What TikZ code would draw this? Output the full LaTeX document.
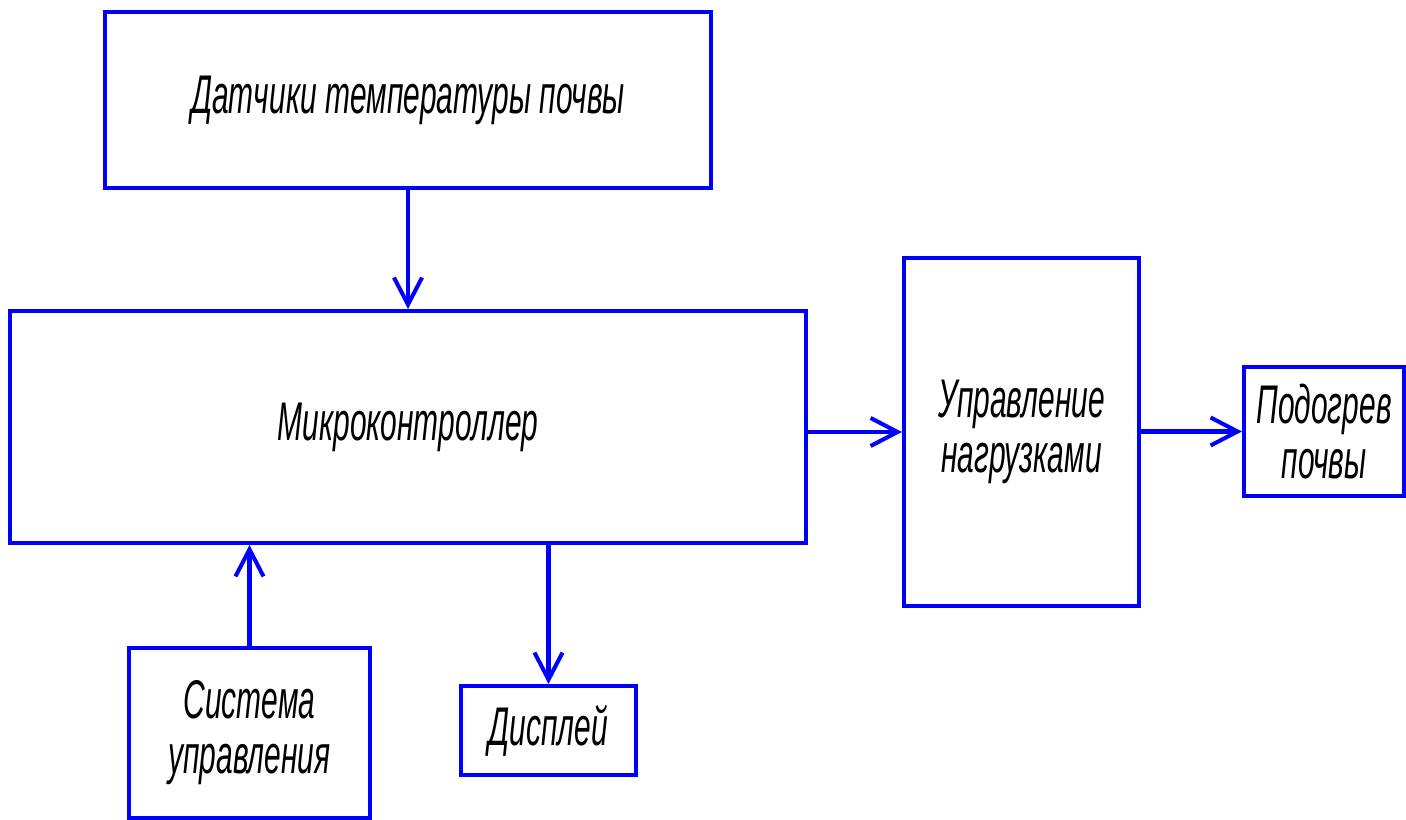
\documentclass[tikz,border=0pt]{standalone}
\usepackage{fontspec}
\newfontfamily\gostfont[FakeStretch=0.55]{Liberation Sans}
\usetikzlibrary{arrows.meta,positioning}
\definecolor{lineblue}{RGB}{0,0,255}
\tikzset{
  block/.style={draw=lineblue, line width=1.15pt, inner sep=2pt, align=center,
                font=\gostfont\itshape\fontsize{15.5}{15.6}\selectfont, text=black},
  flow/.style={-{Straight Barb[length=2.7mm,width=2.8mm]}, lineblue, line width=1.15pt},
}
\begin{document}
\begin{tikzpicture}
  \useasboundingbox (0,0) rectangle (14.06,8.20);
  \node[block,minimum width=6.06cm,minimum height=1.76cm] (sensors) at (4.08,7.20) {Датчики температуры почвы};
  \node[block,minimum width=7.96cm,minimum height=2.32cm] (mcu) at (4.08,3.93) {Микроконтроллер};
  \node[block,minimum width=2.35cm,minimum height=3.48cm] (load) at (10.215,3.88) {Управление\\нагрузками};
  \node[block,minimum width=1.60cm,minimum height=1.29cm] (heater) at (13.24,3.885) {Подогрев\\почвы};
  \node[block,minimum width=2.41cm,minimum height=1.70cm] (ctrl) at (2.495,0.87) {Система\\управления};
  \node[block,minimum width=1.75cm,minimum height=0.89cm] (disp) at (5.485,0.895) {Дисплей};
  \draw[flow] (sensors.south) -- (sensors.south |- mcu.north);
  \draw[flow] (mcu.east |- load.west) -- (load.west);
  \draw[flow] (load.east |- heater.west) -- (heater.west);
  \draw[flow] (ctrl.north) -- (ctrl.north |- mcu.south);
  \draw[flow] (disp.north |- mcu.south) -- (disp.north);
\end{tikzpicture}
\end{document}
